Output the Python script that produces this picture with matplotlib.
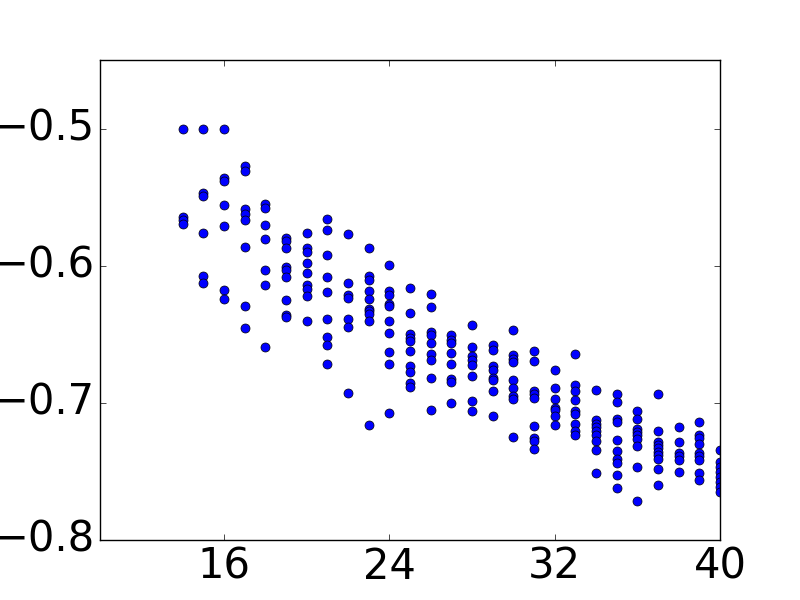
import matplotlib
matplotlib.use("Agg")
import matplotlib.pyplot as plt
import numpy as np

plt.style.use("classic")

# Values read per x column
y14 = [-0.5, -0.5646, -0.567, -0.5694]
y15 = [-0.5, -0.5468, -0.5493, -0.576, -0.6076, -0.6124]
y16 = [-0.5, -0.5362, -0.5384, -0.5556, -0.5714, -0.618, -0.624]
y17 = [-0.527, -0.5306, -0.559, -0.5623, -0.567, -0.5867, -0.6296, -0.6457]
y18 = [-0.5553, -0.5577, -0.5702, -0.5804, -0.6034, -0.6139, -0.659]
y19 = [-0.5796, -0.5821, -0.5869, -0.6009, -0.6034, -0.6085, -0.6253, -0.6362, -0.6375]
y20 = [-0.576, -0.5869, -0.5901, -0.5979, -0.6052, -0.6143, -0.6168, -0.6224, -0.6406]
y21 = [-0.5658, -0.5743, -0.5925, -0.6083, -0.6193, -0.6387, -0.652, -0.658, -0.6714]
y22 = [-0.5767, -0.6127, -0.6216, -0.6233, -0.6391, -0.6447, -0.6925]
y23 = [-0.5869, -0.6078, -0.6102, -0.6187, -0.6245, -0.6313, -0.6333, -0.6353, -0.6406, -0.7158]
y24 = [-0.5998, -0.6185, -0.6211, -0.6277, -0.6296, -0.6406, -0.6488, -0.6629, -0.6714, -0.7074]
y25 = [-0.616, -0.6345, -0.6496, -0.6525, -0.655, -0.6623, -0.6734, -0.6776, -0.6855, -0.6884]
y26 = [-0.6204, -0.6302, -0.6484, -0.6508, -0.6564, -0.6646, -0.669, -0.6816, -0.7049]
y27 = [-0.6503, -0.6544, -0.6563, -0.6637, -0.6714, -0.6823, -0.6847, -0.6998]
y28 = [-0.643, -0.6594, -0.6661, -0.6691, -0.6726, -0.6806, -0.6986, -0.7061]
y29 = [-0.658, -0.6611, -0.6734, -0.6758, -0.6816, -0.6836, -0.6914, -0.7098]
y30 = [-0.6471, -0.6653, -0.6678, -0.6703, -0.6831, -0.689, -0.6947, -0.6969, -0.7249]
y31 = [-0.6624, -0.6697, -0.6913, -0.6937, -0.6962, -0.717, -0.7254, -0.7279, -0.7339]
y32 = [-0.6763, -0.6889, -0.6969, -0.7034, -0.7049, -0.7098, -0.7163]
y33 = [-0.6646, -0.6867, -0.6915, -0.6981, -0.7059, -0.7083, -0.7151, -0.7207, -0.7231]
y34 = [-0.6903, -0.7127, -0.7151, -0.7175, -0.7207, -0.7234, -0.7279, -0.7345, -0.7515]
y35 = [-0.6932, -0.6994, -0.712, -0.7143, -0.7272, -0.7353, -0.7413, -0.7437, -0.7527, -0.7624]
y36 = [-0.706, -0.7115, -0.7187, -0.7212, -0.7236, -0.726, -0.7313, -0.7466, -0.7717]
y37 = [-0.6937, -0.7207, -0.7285, -0.7308, -0.7332, -0.7357, -0.7381, -0.7413, -0.7479, -0.76]
y38 = [-0.7176, -0.7289, -0.7365, -0.7389, -0.7418, -0.7503]
y39 = [-0.7141, -0.7236, -0.7255, -0.7301, -0.7365, -0.7389, -0.7415, -0.7515, -0.7559]
y40 = [-0.7345, -0.7431, -0.7467, -0.7503, -0.754, -0.7577, -0.7613, -0.765]

columns = [y14, y15, y16, y17, y18, y19, y20, y21, y22, y23, y24, y25, y26, y27,
           y28, y29, y30, y31, y32, y33, y34, y35, y36, y37, y38, y39, y40]
x_cols = list(range(14, 41))

x_ticks = [16, 24, 32, 40]
y_ticks = [-0.8, -0.7, -0.6, -0.5]

# Flatten columns into point arrays
xs = np.concatenate([[xc] * len(col) for xc, col in zip(x_cols, columns)])
ys = np.concatenate(columns)

fig = plt.figure(figsize=(8, 6), dpi=100, facecolor="white")
ax = fig.add_subplot(111)
ax.plot(xs, ys, "o", color="b", markeredgecolor="k", markersize=6.5)

ax.set_xlim(10, 40)
ax.set_ylim(-0.8, -0.45)
ax.set_xticks(x_ticks)
ax.set_yticks(y_ticks)
ax.tick_params(labelsize=30)

fig.savefig("out.png", dpi=100, facecolor="white")
